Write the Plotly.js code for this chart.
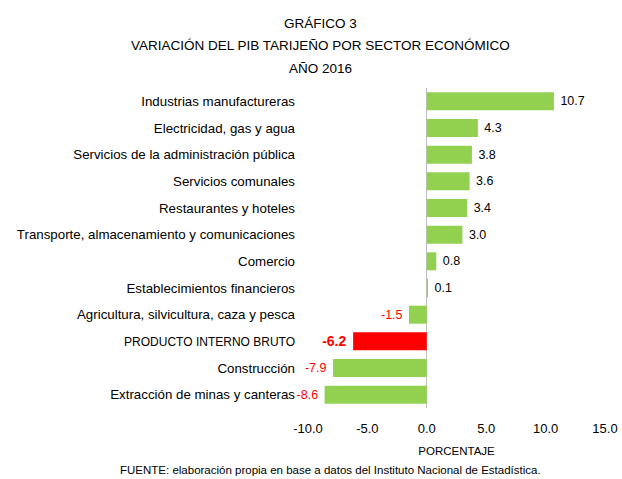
<!DOCTYPE html>
<html>
<head>
<meta charset="utf-8">
<script src="https://cdn.plot.ly/plotly-3.0.1.min.js"></script>
<style>
  html, body { margin: 0; padding: 0; background: #fff; }
  #chart { width: 622px; height: 479px; }
</style>
</head>
<body>
<div id="chart"></div>
<script>
const categories = [
  "Industrias manufactureras",
  "Electricidad, gas y agua",
  "Servicios de la administración pública",
  "Servicios comunales",
  "Restaurantes y hoteles",
  "Transporte, almacenamiento y comunicaciones",
  "Comercio",
  "Establecimientos financieros",
  "Agricultura, silvicultura, caza y pesca",
  "PRODUCTO INTERNO BRUTO",
  "Construcción",
  "Extracción de minas y canteras"
];
const values = [10.7, 4.3, 3.8, 3.6, 3.4, 3.0, 0.8, 0.1, -1.5, -6.2, -7.9, -8.6];
const highlight = "PRODUCTO INTERNO BRUTO";
const xTickValues = [-10, -5, 0, 5, 10, 15];
const titleLines = ["GRÁFICO 3", "VARIACIÓN DEL PIB TARIJEÑO POR SECTOR ECONÓMICO", "AÑO 2016"];
const xTitle = "PORCENTAJE";
const sourceNote = "FUENTE: elaboración propia en base a datos del Instituto Nacional de Estadística.";

const FONT = "'Liberation Sans', Arial, sans-serif";
const GREEN = "#92D050", RED = "#FF0000";
const NB = "\u00a0";

const barColors = categories.map(c => c === highlight ? RED : GREEN);
const labels = values.map((v, i) => {
  const s = v.toFixed(1);
  const t = categories[i] === highlight ? "<b>" + s + "</b>" : s;
  return v < 0 ? t + NB : NB + t;
});
const labelColors = values.map(v => v < 0 ? RED : "#000000");
const labelSizes = categories.map(c => c === highlight ? 14 : 12.5);
const catTickText = categories.map(c =>
  c === highlight ? '<span style="font-size:12px">' + c + '</span>' : c);

const trace = {
  type: "bar",
  orientation: "h",
  y: categories,
  x: values,
  marker: { color: barColors, line: { width: 0 } },
  width: 0.675,
  text: labels,
  textposition: "outside",
  textfont: { family: FONT, color: labelColors, size: labelSizes },
  constraintext: "none",
  cliponaxis: false,
  hoverinfo: "x+y"
};

const titleY = [23, 46, 68];
const H = 479, T = 88, B = 71;
const plotH = H - T - B;
const pxToPaper = py => (H - B - py) / plotH;

const annotations = titleLines.map((t, i) => ({
  text: t, xref: "paper", yref: "paper",
  x: (320 - 308) / (605 - 308), y: pxToPaper(titleY[i]),
  xanchor: "center", yanchor: "middle", showarrow: false,
  font: { family: FONT, size: 13.5, color: "#000" }
}));
annotations.push({
  text: sourceNote, xref: "paper", yref: "paper",
  x: (330 - 308) / (605 - 308), y: pxToPaper(470),
  xanchor: "center", yanchor: "middle", showarrow: false,
  font: { family: FONT, size: 11.5, color: "#000" }
});

const layout = {
  width: 622, height: 479,
  margin: { l: 308, r: 17, t: T, b: B, pad: 0 },
  paper_bgcolor: "#fff", plot_bgcolor: "#fff",
  showlegend: false,
  bargap: 0.325,
  xaxis: {
    range: [-10, 15],
    tickvals: xTickValues,
    ticktext: xTickValues.map(v => v.toFixed(1)),
    showgrid: false,
    zeroline: true, zerolinecolor: "#BFBFBF", zerolinewidth: 1,
    showline: false, ticks: "",
    ticklabelstandoff: 11,
    tickfont: { family: FONT, size: 13, color: "#000" },
    title: { text: xTitle, font: { family: FONT, size: 11.5, color: "#000" }, standoff: 11 },
    fixedrange: true
  },
  yaxis: {
    type: "category",
    autorange: "reversed",
    tickmode: "array",
    tickvals: categories,
    ticktext: catTickText,
    showgrid: false, zeroline: false, showline: false, ticks: "",
    ticklabelstandoff: 12,
    tickfont: { family: FONT, size: 13.3, color: "#000" },
    fixedrange: true
  },
  annotations: annotations
};

Plotly.newPlot("chart", [trace], layout, { displayModeBar: false, staticPlot: true });
</script>
</body>
</html>
